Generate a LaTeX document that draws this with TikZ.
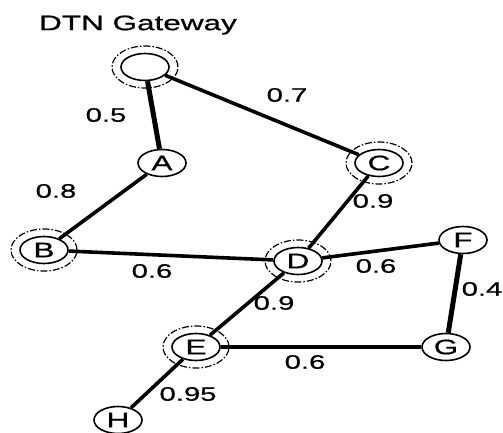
\documentclass[tikz,border=0pt]{standalone}
\usepackage{fontspec}
\usetikzlibrary{shapes.geometric}
\newfontfamily\lblfont{Liberation Sans}[FakeStretch=1.5,FakeBold=0.8]
\tikzset{
  host/.style={ellipse, draw, line width=1.6pt, minimum width=48pt, minimum height=27pt,
    inner sep=0pt, font=\lblfont\fontsize{21}{21}\selectfont},
  ring/.style={ellipse, draw, line width=1.2pt, minimum width=66pt, minimum height=42pt,
    dash pattern=on 7pt off 2pt on 1.5pt off 2pt},
  link/.style={line width=3.6pt},
  heavylink/.style={line width=5pt},
  weight/.style={font=\lblfont\fontsize{19.5}{19.5}\selectfont, inner sep=0pt},
}
\begin{document}
\begin{tikzpicture}[x=1pt,y=-1pt]
\useasboundingbox (0,0) rectangle (503,433);
% title
\node[font=\lblfont\fontsize{21}{21}\selectfont, inner sep=0pt] (title) at (138,25) {DTN Gateway};
% hosts
\node[host] (gw) at (145,67) {};
\node[host] (A) at (162,163) {A};
\node[host] (B) at (44,250) {B};
\node[host] (C) at (379,163) {C};
\node[host] (D) at (298,261) {D};
\node[host] (E) at (196,347) {E};
\node[host] (F) at (463,240) {F};
\node[host] (G) at (446,347) {G};
\node[host] (H) at (118,420) {H};
% dash-dotted rings round the relay nodes
\foreach \n in {gw,B,C,D,E} \node[ring] (r\n) at (\n) {};
% links
\draw[heavylink] (gw) -- (A);
\draw[link] (gw) -- (C);
\draw[link] (A) -- (B);
\draw[link] (B) -- (D);
\draw[link] (C) -- (D);
\draw[link] (D) -- (F);
\draw[link] (D) -- (E);
\draw[heavylink] (F) -- (G);
\draw[link] (E) -- (G);
\draw[link] (E) -- (H);
% link weights
\node[weight] (w1) at (106,115) {0.5};
\node[weight] (w2) at (287,95) {0.7};
\node[weight] (w3) at (56,191) {0.8};
\node[weight] (w4) at (373,201) {0.9};
\node[weight] (w5) at (152,271) {0.6};
\node[weight] (w6) at (376,266) {0.6};
\node[weight] (w7) at (274,303) {0.9};
\node[weight] (w8) at (482,289) {0.4};
\node[weight] (w9) at (305,362) {0.6};
\node[weight] (w10) at (188,394) {0.95};
\end{tikzpicture}
\end{document}
